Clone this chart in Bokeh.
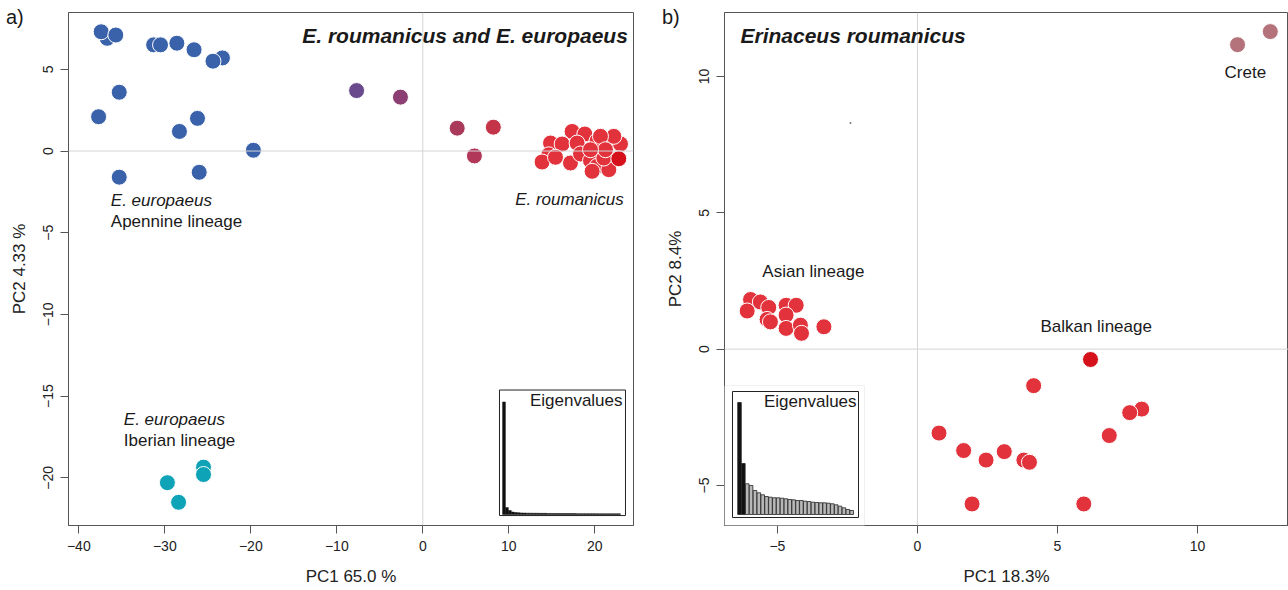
from bokeh.plotting import figure
from bokeh.models import Range1d, Span, Label, FixedTicker, BoxAnnotation, Div
from bokeh.layouts import row
from bokeh.embed import file_html
from bokeh.resources import INLINE

FONT = "Liberation Sans"

# ---------------- data: panel a ----------------
apennine_x = [-36.7, -37.4, -35.7, -31.3, -30.5, -28.6, -26.6, -23.3, -24.4, -35.3, -37.7, -28.3, -26.2, -19.7, -35.3, -26.0]
apennine_y = [6.9, 7.3, 7.1, 6.5, 6.5, 6.6, 6.2, 5.7, 5.5, 3.6, 2.1, 1.2, 2.0, 0.05, -1.6, -1.3]
iberian_x = [-25.5, -25.5, -29.7, -28.4]
iberian_y = [-19.35, -19.8, -20.3, -21.5]
hybrid_x = [-7.7, -2.6, 4.0, 8.2, 6.0]
hybrid_y = [3.7, 3.3, 1.4, 1.46, -0.3]
roum_a_x = [17.36, 18.84, 14.85, 16.20, 17.94, 20.27, 21.55, 22.99, 22.21, 20.66, 14.65, 13.87,
            17.17, 18.34, 19.50, 20.27, 19.69, 21.63, 21.05, 15.43, 21.24, 19.50]
roum_a_y = [1.20, 1.04, 0.49, 0.43, 0.49, 0.63, 0.63, 0.43, 0.90, 0.90, -0.23, -0.67,
            -0.73, -0.18, -0.59, -0.93, -1.24, -1.14, -0.43, -0.38, 0.08, 0.08]
roum_a_dark_x = [22.79]
roum_a_dark_y = [-0.47]
eigen_a = [113, 7, 4, 2.5, 2, 1.8, 1.6, 1.5, 1.4, 1.4, 1.3, 1.3, 1.2, 1.2, 1.2, 1.1, 1.1, 1.1, 1.1, 1.0,
           1.0, 1.0, 1.0, 1.0, 1.0, 0.9, 0.9, 0.9, 0.9, 0.9, 0.9, 0.9, 0.8, 0.8, 0.8, 0.8, 0.8, 0.8, 0.8, 0.8]
a_xticks = [-40, -30, -20, -10, 0, 10, 20]
a_yticks = [-20, -15, -10, -5, 0, 5]

# ---------------- data: panel b ----------------
asian_x = [-5.96, -6.08, -5.61, -5.31, -5.37, -5.25, -4.69, -4.33, -4.69, -4.69, -4.18, -4.14, -3.34]
asian_y = [1.82, 1.40, 1.73, 1.53, 1.09, 1.00, 1.61, 1.61, 1.25, 0.76, 0.88, 0.58, 0.82]
balkan_x = [4.15, 8.01, 7.58, 6.85, 0.77, 1.65, 2.45, 3.10, 3.80, 4.00, 1.95, 5.94]
balkan_y = [-1.34, -2.20, -2.33, -3.17, -3.08, -3.72, -4.07, -3.76, -4.07, -4.15, -5.68, -5.68]
balkan_dark_x = [6.18]
balkan_dark_y = [-0.38]
crete_x = [11.43, 12.6]
crete_y = [11.17, 11.65]
stray_x = [-2.39]
stray_y = [8.3]
eigen_b = [112, 51, 30.7, 29, 24, 21.7, 19.7, 18, 17.3, 16.7, 16.7, 16.3, 15.7, 15, 14.7, 14, 14,
           13.3, 13, 12.3, 12, 11.7, 11.7, 11.3, 10.7, 9.7, 8.3, 6.7, 5, 4]
b_xticks = [-5, 0, 5, 10]
b_yticks = [-5, 0, 5, 10]
panel_tags = ["a)", "b)"]

# ---------------- styles ----------------
BLUE = "#3a62ab"
TEAL = "#0ea3b6"
RED = "#e2323b"
DARKRED = "#d5121c"
CRETE = "#b4727a"
hybrid_colors = ["#6a4a8c", "#8b3f72", "#aa3a5a", "#c4354a", "#b2385a"]
PT = 16
H = 590


def minus(t):
    return ("\u2212" + str(abs(t))) if t < 0 else str(t)


def inset_range(b0, b1, f0, f1):
    span = (b1 - b0) / (f1 - f0)
    start = b0 - f0 * span
    return Range1d(start, start + span)


def base_fig(width, xr, yr, xticks, yticks, xlabel, ylabel, mbl, mbr, mbb):
    p = figure(width=width, height=H, x_range=xr, y_range=yr, output_backend="svg",
               toolbar_location=None, min_border_left=mbl, min_border_right=mbr,
               min_border_top=12, min_border_bottom=mbb)
    p.xgrid.visible = False
    p.ygrid.visible = False
    p.outline_line_color = "#555555"
    p.outline_line_width = 1
    p.background_fill_color = "white"
    p.border_fill_color = "white"
    p.xaxis.ticker = FixedTicker(ticks=xticks)
    p.yaxis.ticker = FixedTicker(ticks=yticks)
    p.xaxis.major_label_overrides = {t: minus(t) for t in xticks}
    p.yaxis.major_label_overrides = {t: minus(t) for t in yticks}
    p.axis.minor_tick_line_color = None
    p.axis.major_tick_out = 8
    p.axis.major_tick_in = 0
    p.axis.axis_line_color = "#555555"
    p.axis.major_tick_line_color = "#555555"
    p.axis.major_label_text_font = FONT
    p.axis.major_label_text_font_size = "14px"
    p.axis.major_label_text_color = "#222222"
    p.axis.axis_label_text_font = FONT
    p.axis.axis_label_text_font_size = "17px"
    p.axis.axis_label_text_font_style = "normal"
    p.axis.axis_label_text_color = "#222222"
    p.yaxis.major_label_orientation = "vertical"
    p.xaxis.axis_label = xlabel
    p.yaxis.axis_label = ylabel
    p.axis.major_label_standoff = 7
    p.xaxis.axis_label_standoff = 13
    p.yaxis.axis_label_standoff = 12
    p.add_layout(Span(location=0, dimension="height", line_color="#d4d4d4", line_width=1))
    p.add_layout(Span(location=0, dimension="width", line_color="#d4d4d4", line_width=1))
    return p


def label(p, x, y, text, size="17px", style="normal", align="left", **kw):
    p.add_layout(Label(x=x, y=y, text=text, text_font=FONT, text_font_size=size,
                       text_font_style=style, text_align=align, text_baseline="middle",
                       text_color="#1a1a1a", **kw))


def tag(text, left):
    return Div(text=text, styles={"position": "absolute", "left": f"{left}px", "top": "5px",
                                  "font-family": FONT, "font-size": "20px", "color": "#1a1a1a",
                                  "z-index": "10", "line-height": "24px", "margin": "0",
                                  "padding": "0"})


# ================= panel a =================
pa = base_fig(658, Range1d(-41.2, 24.5), Range1d(-22.92, 8.48), a_xticks, a_yticks,
              "PC1 65.0 %", "PC2 4.33 %", 68, 25, H - 527)

pa.scatter(apennine_x, apennine_y, size=PT, fill_color=BLUE, line_color="white", line_width=1)
pa.scatter(iberian_x, iberian_y, size=PT, fill_color=TEAL, line_color="white", line_width=1)
pa.scatter(hybrid_x, hybrid_y, size=PT, fill_color=hybrid_colors, line_color="white", line_width=1)
pa.scatter(roum_a_x, roum_a_y, size=PT, fill_color=RED, line_color="white", line_width=1)
pa.scatter(roum_a_dark_x, roum_a_dark_y, size=PT, fill_color=DARKRED, line_color="white", line_width=1)

na = len(eigen_a)
bxa0, bxa1, bya0, bya1 = -1.53, na + 1.19, -1, 125
pa.extra_x_ranges = {"ia": inset_range(bxa0, bxa1, 0.7628, 0.9858)}
pa.extra_y_ranges = {"ia": inset_range(bya0, bya1, 0.0194, 0.2641)}
pa.quad(left=[bxa0], right=[bxa1], bottom=[bya0], top=[bya1], fill_color="white",
        line_color="#222222", line_width=1, x_range_name="ia", y_range_name="ia")
pa.vbar(x=list(range(na)), top=eigen_a, bottom=0, width=0.95, fill_color="#111111",
        line_color="#111111", line_width=0.5, x_range_name="ia", y_range_name="ia")
label(pa, bxa1 - 1.0, 114, "Eigenvalues", x_range_name="ia", y_range_name="ia", align="right")

label(pa, 23.84, 7.07, "E. roumanicus and E. europaeus", size="21px", style="bold italic", align="right")
label(pa, -36.28, -3.05, "E. europaeus", style="italic")
label(pa, -36.28, -4.33, "Apennine lineage")
label(pa, 23.37, -2.99, "E. roumanicus", style="italic", align="right")
label(pa, -34.77, -16.46, "E. europaeus", style="italic")
label(pa, -34.77, -17.74, "Iberian lineage")

# ================= panel b =================
pb = base_fig(630, Range1d(-6.89, 13.25), Range1d(-6.47, 12.35), b_xticks, b_yticks,
              "PC1 18.3%", "PC2 8.4%", 66, 0, H - 525)

pb.scatter(stray_x, stray_y, size=2, fill_color="#777777", line_color=None)
pb.scatter(crete_x, crete_y, size=PT, fill_color=CRETE, line_color="white", line_width=1)
pb.scatter(asian_x, asian_y, size=PT, fill_color=RED, line_color="white", line_width=1)
pb.scatter(balkan_x, balkan_y, size=PT, fill_color=RED, line_color="white", line_width=1)
pb.scatter(balkan_dark_x, balkan_dark_y, size=PT, fill_color=DARKRED, line_color="white", line_width=1)

nb = len(eigen_b)
bxb0, bxb1, byb0, byb1 = -1.81, nb + 0.76, -3, 123
rxb = inset_range(bxb0, bxb1, 0.01418, 0.2376)
ryb = inset_range(byb0, byb1, 0.0156, 0.2612)
pb.extra_x_ranges = {"ib": rxb}
pb.extra_y_ranges = {"ib": ryb}
pb.add_layout(BoxAnnotation(left=rxb.start, right=bxb1 + 1.55, bottom=ryb.start, top=byb1 + 6,
                            fill_color="white", fill_alpha=1, line_color="#cfcfcf", line_width=1,
                            x_range_name="ib", y_range_name="ib", level="annotation"))
r1 = pb.quad(left=[bxb0], right=[bxb1], bottom=[byb0], top=[byb1], fill_color="white",
             line_color="#222222", line_width=1, x_range_name="ib", y_range_name="ib")
bar_fill = ["#111111", "#111111"] + ["#b8b8b8"] * (nb - 2)
r2 = pb.vbar(x=list(range(nb)), top=eigen_b, bottom=0, width=0.92, fill_color=bar_fill,
             line_color="#222222", line_width=0.8, x_range_name="ib", y_range_name="ib")
r1.level = "overlay"
r2.level = "overlay"
lb = Label(x=bxb1 - 0.5, y=113, text="Eigenvalues", text_font=FONT, text_font_size="17px",
           text_align="right", text_baseline="middle", text_color="#1a1a1a",
           x_range_name="ib", y_range_name="ib", level="overlay")
pb.add_layout(lb)

label(pb, -6.32, 11.50, "Erinaceus roumanicus", size="21px", style="bold italic")
label(pb, 11.71, 10.15, "Crete", align="center")
label(pb, -5.54, 2.86, "Asian lineage")
label(pb, 4.39, 0.84, "Balkan lineage")

layout = row(pa, pb, tag(panel_tags[0], 6), tag(panel_tags[1], 662))
open("out.html", "w").write(file_html(layout, INLINE))
